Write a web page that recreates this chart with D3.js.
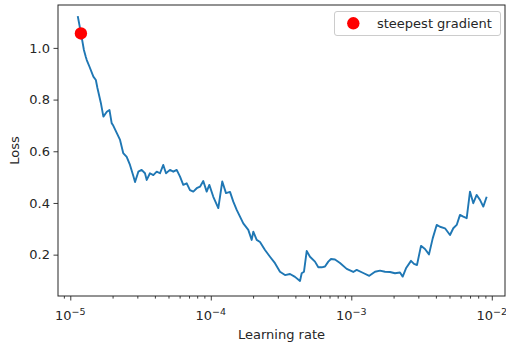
<!DOCTYPE html>
<html>
<head>
<meta charset="utf-8">
<script src="https://cdn.jsdelivr.net/npm/d3@7"></script>
<style>
  body { margin: 0; background: #fff; }
  text { font-family: "DejaVu Sans", sans-serif; fill: #262626; }
</style>
</head>
<body>
<div id="chart"></div>
<script>
// learning rates and losses
var lrs = [
  1.13e-5, 1.19e-5, 1.25e-5, 1.29e-5, 1.31e-5, 1.37e-5, 1.46e-5, 1.52e-5, 1.56e-5, 1.65e-5,
  1.72e-5, 1.82e-5, 1.90e-5, 1.97e-5, 2.01e-5, 2.14e-5, 2.26e-5, 2.38e-5, 2.52e-5, 2.66e-5,
  2.81e-5, 2.89e-5, 3.05e-5, 3.22e-5, 3.40e-5, 3.50e-5, 3.69e-5, 3.90e-5, 4.12e-5, 4.35e-5,
  4.59e-5, 4.80e-5, 5.12e-5, 5.41e-5, 5.72e-5, 6.04e-5, 6.37e-5, 6.74e-5, 7.11e-5, 7.51e-5,
  7.94e-5, 8.38e-5, 8.84e-5, 9.35e-5, 9.76e-5, 1.042e-4, 1.131e-4, 1.207e-4, 1.283e-4, 1.370e-4,
  1.446e-4, 1.529e-4, 1.614e-4, 1.703e-4, 1.849e-4, 1.955e-4, 2.007e-4, 2.122e-4, 2.240e-4, 2.431e-4,
  2.638e-4, 2.863e-4, 3.108e-4, 3.374e-4, 3.662e-4, 3.975e-4, 4.314e-4, 4.436e-4, 4.606e-4, 4.815e-4,
  5.082e-4, 5.515e-4, 5.823e-4, 6.157e-4, 6.499e-4, 6.860e-4, 7.170e-4, 7.656e-4, 8.311e-4, 9.275e-4,
  1.033e-3, 1.092e-3, 1.217e-3, 1.343e-3, 1.475e-3, 1.601e-3, 1.738e-3, 1.886e-3, 2.046e-3, 2.221e-3,
  2.322e-3, 2.451e-3, 2.660e-3, 2.795e-3, 2.935e-3, 3.134e-3, 3.346e-3, 3.573e-3, 3.797e-3, 4.054e-3,
  4.279e-3, 4.645e-3, 5.041e-3, 5.321e-3, 5.626e-3, 5.939e-3, 6.269e-3, 6.628e-3, 6.995e-3, 7.385e-3,
  7.806e-3, 8.241e-3, 8.699e-3, 9.198e-3
];
var losses = [
  1.123, 1.058, 0.992, 0.965, 0.953, 0.927, 0.889, 0.876, 0.845, 0.787,
  0.734, 0.753, 0.760, 0.709, 0.702, 0.671, 0.644, 0.593, 0.578, 0.547,
  0.504, 0.481, 0.521, 0.528, 0.515, 0.489, 0.515, 0.508, 0.521, 0.515,
  0.547, 0.515, 0.528, 0.521, 0.528, 0.502, 0.470, 0.476, 0.450, 0.444,
  0.457, 0.463, 0.485, 0.444, 0.470, 0.424, 0.380, 0.483, 0.438, 0.443,
  0.405, 0.373, 0.347, 0.321, 0.296, 0.257, 0.289, 0.257, 0.249, 0.218,
  0.192, 0.167, 0.134, 0.121, 0.125, 0.114, 0.098, 0.128, 0.134, 0.214,
  0.192, 0.173, 0.151, 0.151, 0.154, 0.173, 0.183, 0.181, 0.168, 0.145,
  0.133, 0.141, 0.129, 0.118, 0.134, 0.138, 0.134, 0.133, 0.128, 0.131,
  0.115, 0.147, 0.176, 0.164, 0.160, 0.234, 0.222, 0.201, 0.263, 0.315,
  0.308, 0.302, 0.276, 0.302, 0.315, 0.354, 0.347, 0.341, 0.444, 0.399,
  0.431, 0.412, 0.386, 0.424
];
var steepest = { lr: 1.19e-5, loss: 1.056 };

var xMajor = [1e-5, 1e-4, 1e-3, 1e-2];
var xExps = ["\u22125", "\u22124", "\u22123", "\u22122"];
var yTicks = [0.2, 0.4, 0.6, 0.8, 1.0];

var W = 506, H = 342;
var pLeft = 58, pRight = 505, pTop = 5, pBottom = 296;

var svg = d3.select("#chart").append("svg").attr("width", W).attr("height", H);

var x = d3.scaleLog().domain([Math.pow(10, -5.0875), Math.pow(10, -1.906)]).range([pLeft, pRight]);
var y = d3.scaleLinear().domain([0.04, 1.166]).range([pBottom, pTop]);

// minor ticks: 2..9 times each decade inside the domain
var xMinor = [];
[1e-6, 1e-5, 1e-4, 1e-3, 1e-2].forEach(function(d) {
  for (var k = 2; k <= 9; k++) {
    var v = d * k;
    if (v >= x.domain()[0] && v <= x.domain()[1]) xMinor.push(v);
  }
});

var gxMinor = svg.append("g").attr("transform", "translate(0," + pBottom + ")")
  .call(d3.axisBottom(x).tickValues(xMinor).tickSize(2.6).tickFormat(""));
var gx = svg.append("g").attr("transform", "translate(0," + pBottom + ")")
  .call(d3.axisBottom(x).tickValues(xMajor).tickSize(4.5).tickFormat(""));
var gy = svg.append("g").attr("transform", "translate(" + pLeft + ",0)")
  .call(d3.axisLeft(y).tickValues(yTicks).tickSize(4.5).tickFormat(d3.format(".1f")));

[gxMinor, gx, gy].forEach(function(g) {
  g.select(".domain").remove();
  g.selectAll(".tick line").attr("stroke", "#262626").attr("stroke-width", 0.9);
});
gy.selectAll(".tick text").attr("x", -8).attr("font-size", 13)
  .attr("font-family", "DejaVu Sans").attr("fill", "#262626");

// x labels as 10 with superscript exponent
xMajor.forEach(function(v, i) {
  var t = svg.append("text").attr("x", x(v)).attr("y", 320)
    .attr("text-anchor", "middle").attr("font-size", 13);
  t.append("tspan").text("10");
  t.append("tspan").attr("dy", -5).attr("font-size", 9.5).text(xExps[i]);
});

// frame
svg.append("rect").attr("x", pLeft).attr("y", pTop)
  .attr("width", pRight - pLeft).attr("height", pBottom - pTop)
  .attr("fill", "none").attr("stroke", "#262626").attr("stroke-width", 1);

var line = d3.line().x(function(d, i) { return x(lrs[i]); }).y(function(d) { return y(d); });
svg.append("path").datum(losses).attr("d", line)
  .attr("fill", "none").attr("stroke", "#1f77b4").attr("stroke-width", 1.9)
  .attr("stroke-linejoin", "round");

svg.append("circle").attr("cx", x(steepest.lr)).attr("cy", y(steepest.loss))
  .attr("r", 6.2).attr("fill", "red");

// axis titles
svg.append("text").attr("x", (pLeft + pRight) / 2).attr("y", 339)
  .attr("text-anchor", "middle").attr("font-size", 13).text("Learning rate");
svg.append("text").attr("transform", "translate(19," + ((pTop + pBottom) / 2) + ") rotate(-90)")
  .attr("text-anchor", "middle").attr("font-size", 13).text("Loss");

// legend
var lg = svg.append("g");
lg.append("rect").attr("x", 334.5).attr("y", 11.5).attr("width", 166).attr("height", 24)
  .attr("rx", 2.5).attr("fill", "#fff").attr("fill-opacity", 0.8)
  .attr("stroke", "#cccccc").attr("stroke-width", 1);
lg.append("circle").attr("cx", 353.3).attr("cy", 23.3).attr("r", 6.2).attr("fill", "red");
lg.append("text").attr("x", 377).attr("y", 28).attr("font-size", 13).text("steepest gradient");
</script>
</body>
</html>
